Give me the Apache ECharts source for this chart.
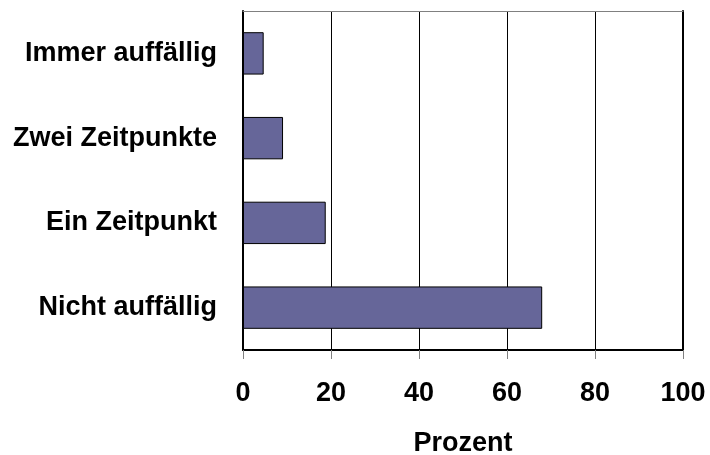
<!DOCTYPE html>
<html>
<head>
<meta charset="utf-8">
<script src="https://cdn.jsdelivr.net/npm/echarts@6/dist/echarts.min.js"></script>
<style>
  html, body { margin: 0; padding: 0; background: #fff; }
  #main { width: 710px; height: 455px; }
</style>
</head>
<body>
<div id="main"></div>
<script>
var categories = ['Immer auffällig', 'Zwei Zeitpunkte', 'Ein Zeitpunkt', 'Nicht auffällig'];
var prozent = [4.7, 9.1, 18.8, 68];
var xTicks = [0, 20, 40, 60, 80, 100];

var chartDom = document.getElementById('main');
var myChart = echarts.init(chartDom);
var option;

var font = 'Arial, "Liberation Sans", sans-serif';

option = {
  animation: false,
  grid: {
    left: 243,
    right: 27,
    top: 11,
    bottom: 105,
    containLabel: false,
    outerBoundsMode: 'none'
  },
  xAxis: [
    {
      type: 'value',
      min: xTicks[0],
      max: xTicks[xTicks.length - 1],
      interval: 20,
      name: 'Prozent',
      nameLocation: 'middle',
      nameGap: 80,
      nameTextStyle: { fontFamily: font, fontWeight: 'bold', fontSize: 27, color: '#000' },
      axisLine: { show: true, lineStyle: { color: '#000', width: 2 } },
      axisTick: { show: true, length: 9, lineStyle: { color: '#808080', width: 1 } },
      axisLabel: { margin: 30, fontFamily: font, fontWeight: 'bold', fontSize: 27, color: '#000' },
      splitLine: { show: true, lineStyle: { color: '#000', width: 1 } }
    },
    {
      // top frame line
      type: 'value',
      position: 'top',
      min: xTicks[0],
      max: xTicks[xTicks.length - 1],
      interval: 20,
      axisLine: { show: true, lineStyle: { color: '#808080', width: 1 } },
      axisTick: { show: false },
      axisLabel: { show: false },
      splitLine: { show: false }
    }
  ],
  yAxis: [
    {
      type: 'category',
      data: categories,
      inverse: true,
      axisLine: { show: true, onZero: false, lineStyle: { color: '#000', width: 2 } },
      axisTick: { show: false },
      axisLabel: { margin: 26, fontFamily: font, fontWeight: 'bold', fontSize: 27, color: '#000' }
    },
    {
      // right frame line
      type: 'category',
      data: categories,
      inverse: true,
      position: 'right',
      axisLine: { show: true, onZero: false, lineStyle: { color: '#000', width: 2 } },
      axisTick: { show: false },
      axisLabel: { show: false }
    }
  ],
  series: [
    {
      type: 'bar',
      data: prozent,
      barCategoryGap: '50%',
      itemStyle: { color: '#666699', borderColor: '#000', borderWidth: 1 }
    }
  ]
};

option && myChart.setOption(option);
</script>
</body>
</html>
